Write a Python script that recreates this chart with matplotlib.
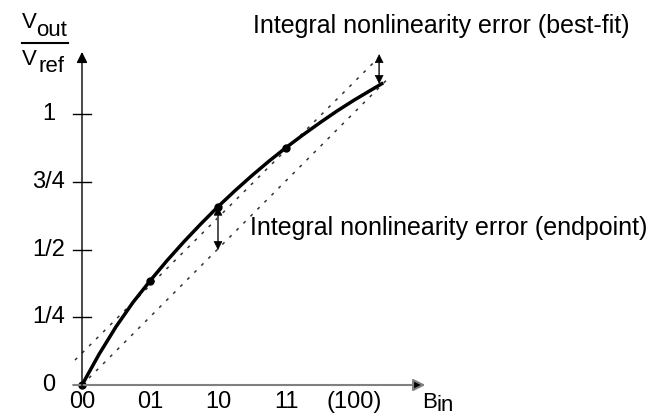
import matplotlib.pyplot as plt

plt.rcParams["font.family"] = ["Liberation Sans", "DejaVu Sans"]

# transfer curve (x in code steps, y in Vout/Vref)
curve_x = [0, 0.25, 0.5, 0.75, 1, 1.25, 1.5, 1.75, 2, 2.25, 2.5, 2.75, 3,
           3.25, 3.5, 3.75, 4, 4.43]
curve_y = [0, 0.113, 0.215, 0.305, 0.384, 0.459, 0.529, 0.595, 0.658,
           0.717, 0.773, 0.826, 0.876, 0.923, 0.968, 1.011, 1.051, 1.115]
code_x = [0, 1, 2, 3]
code_y = [0, 0.384, 0.658, 0.876]

# straight reference lines
endpoint_x = [0, 4.51]
endpoint_y = [0, 1.133]
bestfit_x = [-0.103, 4.43]
bestfit_y = [0.092, 1.225]

# error arrows (x, y_low, y_high)
err_end = (2.0, 0.498, 0.658)
err_fit = (4.37, 1.111, 1.221)

x_ticks = [0, 1, 2, 3, 4]
x_labels = ["00", "01", "10", "11", "(100)"]
y_ticks = [0, 0.25, 0.5, 0.75, 1]
y_labels = ["0", "1/4", "1/2", "3/4", "1"]

fig = plt.figure(figsize=(6.68, 4.17), dpi=100)
ax = fig.add_axes([0, 0, 1, 1])
ax.set_xlim(-82/68, (668-82)/68)
ax.set_ylim(-(417-385)/271, 385/271)
ax.axis("off")

# axes with arrows
ax.annotate("", xy=(5.05, 0), xytext=(-0.13, 0),
            arrowprops=dict(arrowstyle="-|>", fc="black", ec="#808080",
                            lw=1.5, shrinkA=0, shrinkB=0, mutation_scale=18))
ax.annotate("", xy=(0, 1.229), xytext=(0, -0.01),
            arrowprops=dict(arrowstyle="-|>", color="black",
                            lw=1, shrinkA=0, shrinkB=0, mutation_scale=16))
for t, lab in zip(y_ticks, y_labels):
    if t > 0:
        ax.plot([-0.13, 0.13], [t, t], color="black", lw=1)
    ax.text(-0.49, t, lab, ha="center", va="center", fontsize=17)
for t, lab in zip(x_ticks, x_labels):
    ax.text(t, -0.063, lab, ha="center", va="center", fontsize=17)

ax.text(5.0, -0.084, "B", ha="left", va="baseline", fontsize=16)
ax.text(5.206, -0.097, "in", ha="left", va="baseline", fontsize=16)

# Vout / Vref label
ax.text(-0.882, 1.317, "V", ha="left", va="baseline", fontsize=16)
ax.text(-0.676, 1.288, "out", ha="left", va="baseline", fontsize=16)
ax.plot([-0.882, -0.206], [1.262, 1.262], color="black", lw=1.5)
ax.text(-0.882, 1.181, "V", ha="left", va="baseline", fontsize=16)
ax.text(-0.647, 1.155, "ref", ha="left", va="baseline", fontsize=16)

# reference lines
ax.plot(endpoint_x, endpoint_y, color="#333333", lw=1.1, ls=(0, (2, 4.5)))
ax.plot(bestfit_x, bestfit_y, color="#333333", lw=1.1, ls=(0, (2, 4.5)))

# transfer curve
ax.plot(curve_x, curve_y, color="black", lw=2.5, solid_capstyle="butt",
        solid_joinstyle="round")
ax.plot(code_x, code_y, "o", color="black", ms=5)

# error arrows: grey shaft, black heads
for x, lo, hi in (err_end, err_fit):
    mid = (lo + hi) / 2
    ax.plot([x, x], [lo + 0.01, hi - 0.01], color="#777777", lw=1.3)
    for end in (lo, hi):
        ax.annotate("", xy=(x, end), xytext=(x, mid),
                    arrowprops=dict(arrowstyle="-|>", fc="black", ec="black",
                                    lw=0.5, shrinkA=0, shrinkB=0,
                                    mutation_scale=14, alpha=1))

ax.text(2.515, 1.299, "Integral nonlinearity error (best-fit)",
        ha="left", va="baseline", fontsize=18)
ax.text(2.47, 0.553, "Integral nonlinearity error (endpoint)",
        ha="left", va="baseline", fontsize=18)

fig.savefig("out.png", dpi=100)
